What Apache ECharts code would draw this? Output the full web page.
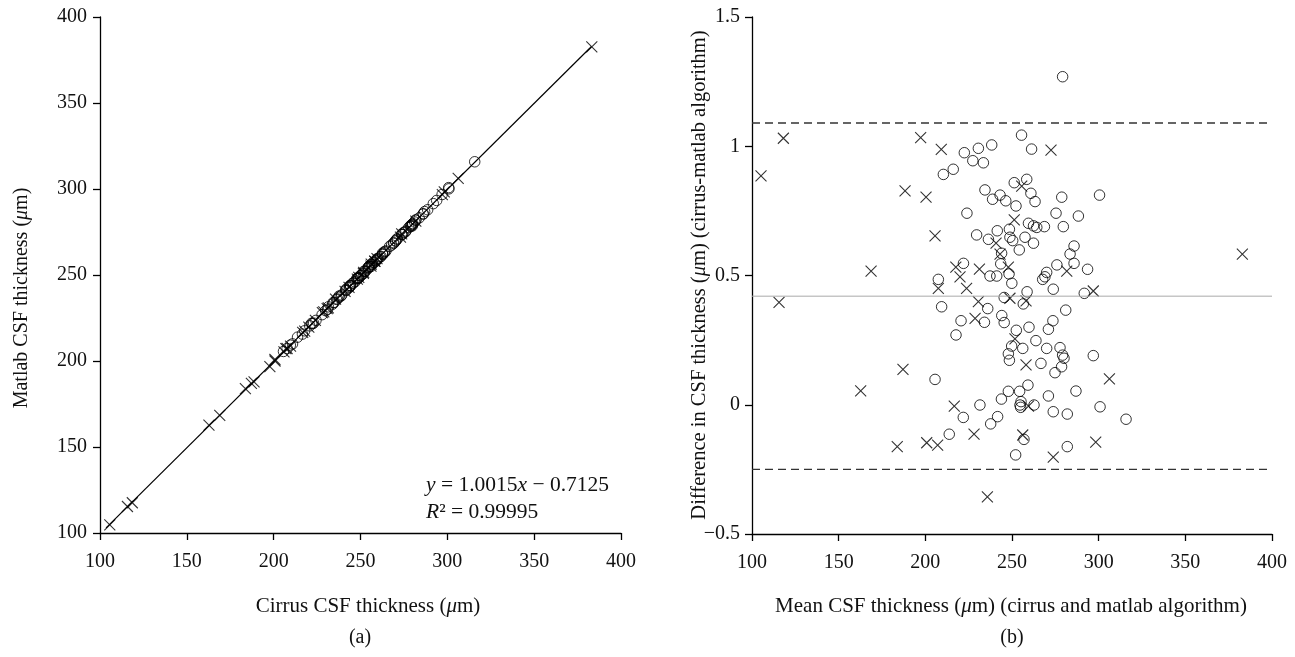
<!DOCTYPE html>
<html>
<head>
<meta charset="utf-8">
<script src="https://cdn.jsdelivr.net/npm/echarts@6/dist/echarts.min.js"></script>
<style>html,body{margin:0;background:#fff}#main{width:1295px;height:657px}</style>
</head>
<body>
<div id="main"></div>
<script>
// points: [mean thickness, cirrus - matlab]
var circlePts = [
  [222.5,0.975],[230.6,0.992],[238.3,1.005],[227.4,0.944],[233.5,0.936],[210.4,0.891],[216.1,0.911],
  [234.4,0.831],[238.8,0.795],[243.1,0.811],[224.0,0.741],[229.6,0.657],[236.4,0.640],[241.5,0.673],
  [243.5,0.545],[222.0,0.547],[237.3,0.498],[241.2,0.498],[207.5,0.485],[209.4,0.379],[236.0,0.372],
  [245.5,0.415],[248.3,0.506],[249.9,0.470],[244.0,0.586],[246.4,0.789],[252.3,0.769],[251.3,0.859],
  [248.5,0.679],[250.4,0.635],[254.2,0.599],[255.5,1.043],[261.3,0.989],[258.5,0.872],[260.9,0.818],
  [263.3,0.786],[278.7,0.803],[300.5,0.811],[259.5,0.702],[262.4,0.692],[264.3,0.686],[268.7,0.689],
  [275.4,0.741],[288.3,0.730],[279.6,0.689],[248.8,0.648],[257.5,0.648],[262.4,0.625],[285.8,0.614],
  [283.5,0.583],[285.8,0.547],[275.9,0.541],[293.6,0.524],[270.0,0.512],[269.0,0.495],[267.7,0.485],
  [273.8,0.447],[258.7,0.437],[256.5,0.390],[291.7,0.431],[281.0,0.366],[279.2,1.269],[220.6,0.325],
  [234.1,0.319],[217.7,0.270],[244.1,0.345],[245.5,0.318],[205.6,0.098],[221.9,-0.049],[231.5,-0.001],
  [237.7,-0.074],[241.7,-0.046],[243.9,0.022],[213.8,-0.114],[247.9,0.052],[252.1,-0.194],[252.5,0.288],
  [249.8,0.227],[247.9,0.197],[248.5,0.172],[254.4,0.052],[254.6,-0.001],[273.6,0.325],[271.0,0.292],
  [259.8,0.300],[256.2,0.218],[263.8,0.248],[270.0,0.218],[277.7,0.221],[279.2,0.192],[278.6,0.147],
  [274.8,0.124],[266.7,0.160],[296.9,0.190],[286.9,0.053],[271.0,0.034],[259.2,0.076],[255.2,0.012],
  [262.7,-0.001],[273.8,-0.027],[281.9,-0.036],[300.8,-0.008],[315.8,-0.056],[256.9,-0.134],[281.9,-0.162],
  [255.0,-0.010],[280.0,0.180]
];
var crossPts = [
  [105.2,0.885],[118.1,1.031],[115.6,0.396],[162.7,0.054],[168.7,0.517],[183.8,-0.162],[187.1,0.137],
  [188.3,0.827],[197.3,1.033],[200.4,0.803],[200.8,-0.147],[205.6,0.653],[207.1,-0.156],[207.5,0.450],
  [209.2,0.988],[216.7,-0.005],[217.6,0.532],[220.0,0.495],[223.8,0.450],[228.1,-0.114],[228.7,0.334],
  [230.6,0.399],[231.2,0.525],[235.8,-0.356],[240.8,0.625],[243.1,0.583],[247.9,0.532],[248.8,0.412],
  [251.3,0.715],[251.7,0.255],[255.6,0.846],[256.2,-0.117],[258.1,0.402],[258.1,0.154],[259.5,-0.005],
  [272.5,0.985],[273.8,-0.203],[281.6,0.517],[296.9,0.440],[298.3,-0.145],[306.2,0.100],[382.9,0.583]
];
// regression line ends, panel (a)
var fitLine = [[103.5,102.95],[383,382.87]];
// bias and limits of agreement, panel (b)
var meanDiff = 0.42;
var upperLoA = 1.09;
var lowerLoA = -0.25;

// panel (a) back from mean/difference: cirrus = mean + d/2, matlab = mean - d/2
function toCM(p){ return [p[0] + p[1]/2, p[0] - p[1]/2]; }

var FONT = 'Liberation Serif';
var crossSym = 'path://M0 0L10 10M10 0L0 10';

function axisBase(grid, min, max, interval, margin){
  return {
    type: 'value', gridIndex: grid,
    min: min, max: max, interval: interval,
    axisLine: {show: true, onZero: false, lineStyle: {color: '#000', width: 1.3}},
    axisTick: {show: true, inside: false, length: 7, lineStyle: {color: '#000', width: 1.3}},
    axisLabel: {color: '#111', fontFamily: FONT, fontSize: 20, margin: margin,
      formatter: function(v){ return String(v).replace('-', '\u2212'); }},
    splitLine: {show: false}
  };
}

// titles and captions as plain text blocks
function label(x, y, txt, size, rot){
  return {type: 'text', x: x, y: y, rotation: rot || 0, silent: true,
    style: {text: txt, fontFamily: FONT, fontSize: size, fill: '#111', align: 'center', verticalAlign: 'middle',
      rich: {i: {fontStyle: 'italic', fontFamily: FONT, fontSize: size, fill: '#111'}}}};
}
function note(top, txt){
  return {type: 'text', left: 426, top: top, silent: true,
    style: {text: txt, fontFamily: FONT, fontSize: 21.5, fill: '#111',
      rich: {i: {fontStyle: 'italic', fontFamily: FONT, fontSize: 21.5, fill: '#111'}}}};
}

var circleStyle = {color: 'transparent', borderColor: '#000', borderWidth: 1};
var crossStyle = {color: 'transparent', borderColor: '#000', borderWidth: 1.1};

var option = {
  animation: false,
  backgroundColor: '#fff',
  grid: [
    {left: 100, top: 17, width: 521, height: 516, outerBoundsMode: 'none'},
    {left: 752, top: 17, width: 520, height: 517, outerBoundsMode: 'none'}
  ],
  xAxis: [axisBase(0, 100, 400, 50, 19), axisBase(1, 100, 400, 50, 19)],
  yAxis: [axisBase(0, 100, 400, 50, 13), axisBase(1, -0.5, 1.5, 0.5, 12)],
  graphic: [
    label(368, 606, 'Cirrus CSF thickness ({i|\u03bc}m)', 21),
    label(22, 298, 'Matlab CSF thickness ({i|\u03bc}m)', 20, Math.PI / 2),
    label(1011, 606, 'Mean CSF thickness ({i|\u03bc}m) (cirrus and matlab algorithm)', 21),
    label(700, 275, 'Difference in CSF thickness ({i|\u03bc}m) (cirrus-matlab algorithm)', 20.5, Math.PI / 2),
    label(360, 638, '(a)', 20),
    label(1012, 638, '(b)', 20),
    note(474, '{i|y} = 1.0015{i|x} \u2212 0.7125'),
    note(501, '{i|R}\u00b2 = 0.99995')
  ],
  series: [
    {type: 'line', xAxisIndex: 0, yAxisIndex: 0, data: fitLine, symbol: 'none', lineStyle: {color: '#000', width: 1.2}, silent: true},
    {type: 'scatter', xAxisIndex: 0, yAxisIndex: 0, data: circlePts.map(toCM), symbol: 'circle', symbolSize: 10.5, itemStyle: circleStyle},
    {type: 'scatter', xAxisIndex: 0, yAxisIndex: 0, data: crossPts.map(toCM), symbol: crossSym, symbolSize: 11, itemStyle: crossStyle},

    {type: 'line', xAxisIndex: 1, yAxisIndex: 1, data: [[100, meanDiff], [400, meanDiff]], symbol: 'none', lineStyle: {color: '#aaa', width: 1}, silent: true},
    {type: 'line', xAxisIndex: 1, yAxisIndex: 1, data: [[100, upperLoA], [400, upperLoA]], symbol: 'none', lineStyle: {color: '#333', width: 1.3, type: [8, 5]}, silent: true},
    {type: 'line', xAxisIndex: 1, yAxisIndex: 1, data: [[100, lowerLoA], [400, lowerLoA]], symbol: 'none', lineStyle: {color: '#333', width: 1.3, type: [8, 5]}, silent: true},
    {type: 'scatter', xAxisIndex: 1, yAxisIndex: 1, data: circlePts, symbol: 'circle', symbolSize: 10.5, itemStyle: circleStyle},
    {type: 'scatter', xAxisIndex: 1, yAxisIndex: 1, data: crossPts, symbol: crossSym, symbolSize: 11, itemStyle: crossStyle}
  ]
};

var chart = echarts.init(document.getElementById('main'), null, {renderer: 'canvas'});
chart.setOption(option);
</script>
</body>
</html>
